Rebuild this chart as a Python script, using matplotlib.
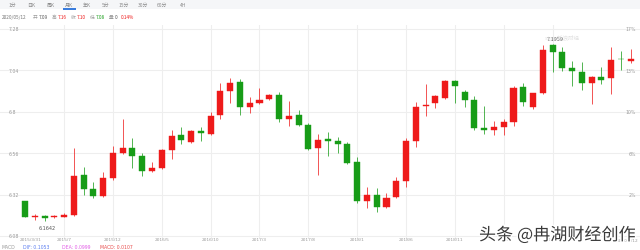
import matplotlib
matplotlib.use("Agg")
import matplotlib.pyplot as plt
import matplotlib.patheffects as pe
from matplotlib.patches import Rectangle
import matplotlib.transforms as mtransforms

# ---------------- data ----------------
months = [f"{y}/{m}" for y in range(2015, 2021) for m in range(1, 13)][2:2 + 63]
opens = [6.281, 6.191, 6.196, 6.192, 6.192, 6.204, 6.434, 6.352, 6.310, 6.414,
         6.561, 6.588, 6.544, 6.457, 6.476, 6.580, 6.666, 6.627, 6.691, 6.671,
         6.779, 6.923, 6.975, 6.830, 6.851, 6.874, 6.899, 6.758, 6.783, 6.725,
         6.588, 6.642, 6.631, 6.613, 6.507, 6.285, 6.320, 6.248, 6.304, 6.401,
         6.633, 6.834, 6.851, 6.880, 6.980, 6.913, 6.870, 6.704, 6.696, 6.712,
         6.743, 6.946, 6.826, 6.911, 7.187, 7.149, 7.054, 7.033, 6.965, 7.004,
         6.996, 7.108, 7.096]
highs = [6.285, 6.208, 6.200, 6.203, 6.211, 6.590, 6.482, 6.391, 6.449, 6.602,
         6.758, 6.646, 6.559, 6.507, 6.584, 6.694, 6.710, 6.694, 6.710, 6.797,
         6.969, 6.994, 6.992, 6.884, 6.936, 6.903, 6.917, 6.861, 6.812, 6.735,
         6.671, 6.685, 6.656, 6.623, 6.536, 6.366, 6.358, 6.327, 6.424, 6.646,
         6.855, 6.961, 6.899, 6.984, 6.984, 6.926, 6.893, 6.836, 6.745, 6.756,
         6.950, 6.965, 6.911, 7.189, 7.1959, 7.174, 7.093, 7.091, 7.009, 7.062,
         7.174, 7.151, 7.164]
lows = [6.188, 6.173, 6.1642, 6.182, 6.188, 6.198, 6.320, 6.300, 6.304, 6.406,
        6.555, 6.474, 6.426, 6.453, 6.466, 6.526, 6.613, 6.617, 6.633, 6.667,
        6.760, 6.853, 6.783, 6.791, 6.845, 6.868, 6.739, 6.720, 6.720, 6.579,
        6.434, 6.546, 6.559, 6.497, 6.269, 6.240, 6.221, 6.240, 6.298, 6.362,
        6.594, 6.778, 6.820, 6.874, 6.853, 6.826, 6.694, 6.671, 6.667, 6.667,
        6.720, 6.836, 6.818, 6.903, 7.033, 7.035, 6.951, 6.926, 6.845, 6.961,
        6.903, 7.042, 7.083]
closes = [6.192, 6.193, 6.186, 6.193, 6.204, 6.430, 6.352, 6.310, 6.414, 6.559,
          6.588, 6.544, 6.455, 6.476, 6.577, 6.662, 6.635, 6.687, 6.675, 6.778,
          6.919, 6.969, 6.830, 6.851, 6.870, 6.897, 6.758, 6.774, 6.725, 6.584,
          6.637, 6.633, 6.615, 6.503, 6.285, 6.320, 6.246, 6.300, 6.397, 6.629,
          6.830, 6.836, 6.890, 6.977, 6.951, 6.870, 6.704, 6.694, 6.714, 6.741,
          6.938, 6.855, 6.907, 7.158, 7.149, 7.054, 7.038, 6.965, 7.000, 6.984,
          7.100, 7.104, 7.105]
left_ticks = [7.28, 7.04, 6.8, 6.56, 6.32, 6.08]
left_labels = ["7.28", "7.04", "6.8", "6.56", "6.32", "6.08"]
right_labels = ["17%", "13%", "10%", "6%", "2%"]
xtick_idx = [4, 9, 14, 19, 24, 29, 34, 39, 44, 49, 54]
first_label = "2015/3/31"
last_label = "2020/5/12"
tabs = ["1分", "日K", "周K", "月K", "年K", "5分", "15分", "30分", "60分", "4H"]
tab_x = [12, 31, 51, 69, 87, 106, 124, 143, 162, 183]
header = [("2020/05/12", "#777777", 2), ("开", "#9a9a9a", 33), ("7.09", "#555555", 39),
          ("高", "#9a9a9a", 52), ("7.16", "#ee1a1a", 58), ("收", "#9a9a9a", 71),
          ("7.10", "#ee1a1a", 77), ("低", "#9a9a9a", 90), ("7.08", "#179c17", 96),
          ("量", "#9a9a9a", 109), ("0", "#555555", 115), ("0.14%", "#ee1a1a", 121)]

W, H = 640, 251
RED = "#ee1a1a"
GREEN = "#179c17"
GRAY = "#9a9a9a"
CJK = ["Noto Sans CJK SC", "DejaVu Sans"]

fig = plt.figure(figsize=(W / 100, H / 100), dpi=100)
fig.patch.set_facecolor("white")

def fx(x):
    return x / W

def fy(y):
    return 1 - y / H

# axes: pixel rows 26..240
top_px, bot_px = 26, 240
scale = 172.5
ax = fig.add_axes([0, fy(bot_px), 1, (bot_px - top_px) / H])
ax.set_ylim(6.08 - (bot_px - 237) / scale, 7.28 + (30 - top_px) / scale)
spacing = 9.77
ax.set_xlim(-25 / spacing, (W - 25) / spacing)
for s in ax.spines.values():
    s.set_visible(False)
ax.set_xticks([])
ax.set_yticks([])

# grid
for v in left_ticks:
    ax.axhline(v, color="#eeeeee", lw=0.8, zorder=0)
for i in xtick_idx:
    ax.axvline(i, color="#eeeeee", lw=0.8, zorder=0)

# candles
bw = 0.62
for i, (o, h, l, c) in enumerate(zip(opens, highs, lows, closes)):
    col = RED if c >= o else GREEN
    ax.vlines(i, l, h, color=col, lw=0.7, alpha=0.75, zorder=2)
    lo, hi = min(o, c), max(o, c)
    hgt = max(hi - lo, 0.004)
    ax.add_patch(Rectangle((i - bw / 2, lo), bw, hgt, facecolor=col,
                           edgecolor=col, lw=0.3, zorder=3))

# left / right labels (inside)
tr = mtransforms.blended_transform_factory(ax.transAxes, ax.transData)
for v, lab in zip(left_ticks, left_labels):
    ax.text(9 / W, v, lab, transform=tr, fontsize=3.3, color=GRAY,
            ha="left", va="center")
for v, lab in zip(left_ticks[:5], right_labels):
    ax.text(636 / W, v, lab, transform=tr, fontsize=3.3, color=GRAY,
            ha="right", va="center")

# extreme labels
imax = max(range(len(highs)), key=lambda k: highs[k])
imin = min(range(len(lows)), key=lambda k: lows[k])
ax.text(imax + 0.3, highs[imax] + 0.015, f"{highs[imax]:.4f}", fontsize=3.5,
        color="#555555", ha="center", va="bottom")
ax.text(imin + 0.3, lows[imin] - 0.02, f"{lows[imin]:.4f}", fontsize=3.5,
        color="#555555", ha="center", va="top")

# x labels
trx = mtransforms.blended_transform_factory(ax.transData, fig.transFigure)
for i in xtick_idx:
    ax.text(i, fy(240), months[i], transform=trx, fontsize=3.1, color=GRAY,
            ha="center", va="center")
ax.text(0.6, fy(240), first_label, transform=trx, fontsize=3.1, color=GRAY,
        ha="center", va="center")
fig.text(fx(638), fy(241), last_label, fontsize=3.1, color=GRAY,
         ha="right", va="center")

# faint source watermark
fig.text(fx(562), fy(37), "sina 新浪财经", fontsize=4, color="#e2e2e2",
         ha="center", va="center", family=CJK)

# tab bar
fig.patches.append(Rectangle((0, fy(10)), 1, 10 / H, transform=fig.transFigure,
                             facecolor="#f5f6f8", edgecolor="none", zorder=0))
for t, x in zip(tabs, tab_x):
    fig.text(fx(x), fy(5.5), t, fontsize=3.5, color="#8a8a8a", ha="center",
             va="center", family=CJK)
fig.patches.append(Rectangle((fx(63), fy(10.5)), 13 / W, 1.2 / H,
                             transform=fig.transFigure, facecolor="#3b7ddd",
                             edgecolor="none"))

# header line
hy = fy(17.3)
for txt, col, x in header:
    fig.text(fx(x), hy, txt, fontsize=3.4, color=col, ha="left",
             va="center", family=CJK)

# MACD row
my = fy(248)
fig.text(fx(2), my, "MACD", fontsize=3.3, color=GRAY, ha="left", va="center")
fig.text(fx(23), my, "DIF: 0.1053", fontsize=3.3, color="#5a7df0", ha="left", va="center")
fig.text(fx(62), my, "DEA: 0.0999", fontsize=3.3, color="#e25ce6", ha="left", va="center")
fig.text(fx(100), my, "MACD: 0.0107", fontsize=3.3, color="#e84a4a", ha="left", va="center")

# author watermark
fig.text(fx(479), fy(236), "头条 @冉湖财经创作", fontsize=12.3, color="#3a3a3a",
         ha="left", va="center", family=CJK,
         path_effects=[pe.withStroke(linewidth=2.2, foreground="white")])

fig.savefig("out.png", dpi=100, facecolor="white")
